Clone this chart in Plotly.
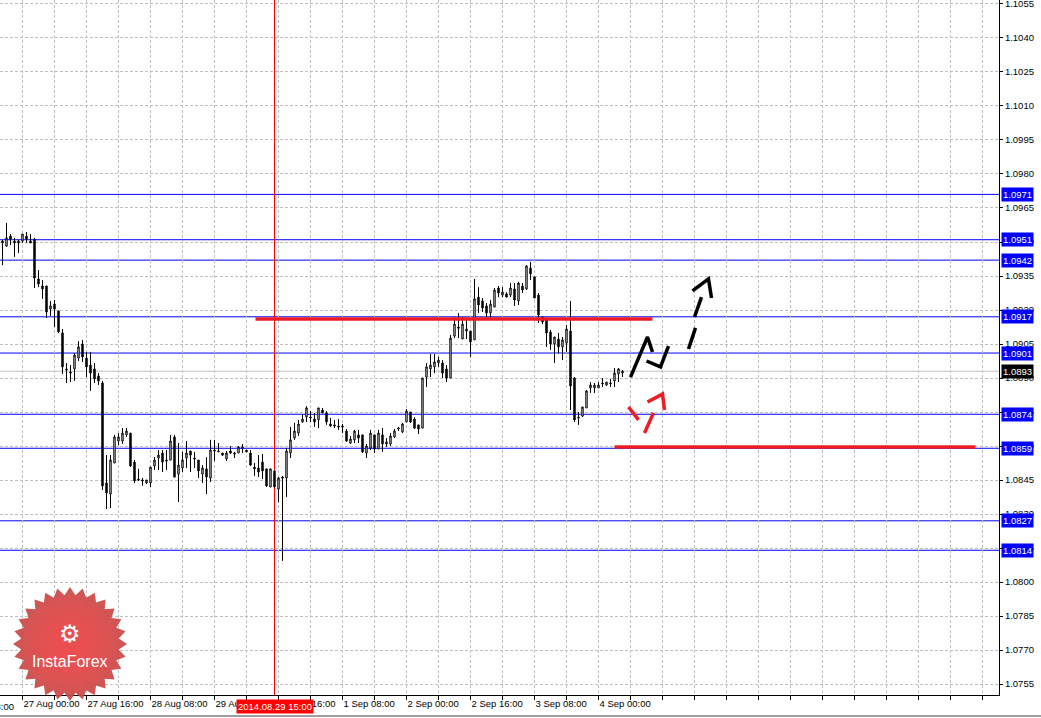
import math
import plotly.graph_objects as go

# ---------------- data (EURUSD-like H1 bars) ----------------
opens = [1.09504, 1.09482, 1.09526, 1.09504, 1.09504, 1.09504, 1.09526, 1.09504, 1.09513, 1.09337,
         1.09306, 1.09306, 1.09204, 1.09226, 1.09196, 1.09099, 1.08940, 1.08926, 1.08940, 1.08988,
         1.09050, 1.08988, 1.08957, 1.08940, 1.08909, 1.08878, 1.08437, 1.08388, 1.08525, 1.08622,
         1.08622, 1.08649, 1.08657, 1.08529, 1.08454, 1.08450, 1.08437, 1.08437, 1.08512, 1.08547,
         1.08569, 1.08538, 1.08538, 1.08640, 1.08476, 1.08503, 1.08547, 1.08578, 1.08547, 1.08538,
         1.08476, 1.08499, 1.08459, 1.08582, 1.08574, 1.08569, 1.08543, 1.08578, 1.08569, 1.08569,
         1.08587, 1.08582, 1.08569, 1.08507, 1.08503, 1.08529, 1.08499, 1.08419, 1.08490, 1.08410,
         1.08463, 1.08459, 1.08569, 1.08635, 1.08657, 1.08706, 1.08728, 1.08728, 1.08719, 1.08715,
         1.08759, 1.08746, 1.08697, 1.08693, 1.08688, 1.08688, 1.08666, 1.08613, 1.08627, 1.08649,
         1.08649, 1.08569, 1.08591, 1.08649, 1.08587, 1.08649, 1.08609, 1.08609, 1.08640, 1.08675,
         1.08662, 1.08706, 1.08750, 1.08719, 1.08693, 1.08679, 1.08904, 1.08940, 1.08949, 1.08966,
         1.08966, 1.08940, 1.08900, 1.09085, 1.09125, 1.09072, 1.09107, 1.09107, 1.09068, 1.09257,
         1.09240, 1.09218, 1.09187, 1.09213, 1.09297, 1.09266, 1.09271, 1.09266, 1.09293, 1.09240,
         1.09306, 1.09293, 1.09385, 1.09346, 1.09266, 1.09169, 1.09165, 1.09103, 1.09050, 1.09072,
         1.09037, 1.09054, 1.09107, 1.08900, 1.08728, 1.08732, 1.08768, 1.08856, 1.08856, 1.08856,
         1.08878, 1.08869, 1.08874, 1.08887, 1.08918, 1.08922]
highs = [1.09509, 1.09584, 1.09535, 1.09518, 1.09509, 1.09535, 1.09544, 1.09535, 1.09518, 1.09376,
         1.09332, 1.09306, 1.09240, 1.09244, 1.09196, 1.09116, 1.08966, 1.08957, 1.09010, 1.09063,
         1.09068, 1.09015, 1.09015, 1.08966, 1.08922, 1.08887, 1.08560, 1.08560, 1.08649, 1.08657,
         1.08679, 1.08679, 1.08657, 1.08538, 1.08499, 1.08459, 1.08450, 1.08507, 1.08551, 1.08582,
         1.08582, 1.08582, 1.08649, 1.08649, 1.08613, 1.08574, 1.08622, 1.08578, 1.08574, 1.08538,
         1.08516, 1.08551, 1.08627, 1.08627, 1.08613, 1.08569, 1.08578, 1.08600, 1.08574, 1.08600,
         1.08609, 1.08582, 1.08582, 1.08525, 1.08560, 1.08565, 1.08499, 1.08499, 1.08490, 1.08463,
         1.08468, 1.08591, 1.08684, 1.08702, 1.08715, 1.08741, 1.08776, 1.08754, 1.08746, 1.08768,
         1.08768, 1.08754, 1.08724, 1.08715, 1.08719, 1.08697, 1.08675, 1.08644, 1.08671, 1.08671,
         1.08649, 1.08609, 1.08671, 1.08649, 1.08671, 1.08679, 1.08635, 1.08657, 1.08675, 1.08684,
         1.08702, 1.08763, 1.08750, 1.08728, 1.08693, 1.08900, 1.08966, 1.09006, 1.09006, 1.08993,
         1.08979, 1.08957, 1.09090, 1.09169, 1.09187, 1.09169, 1.09165, 1.09107, 1.09337, 1.09301,
         1.09253, 1.09231, 1.09244, 1.09297, 1.09306, 1.09301, 1.09279, 1.09319, 1.09319, 1.09324,
         1.09319, 1.09398, 1.09412, 1.09346, 1.09275, 1.09169, 1.09165, 1.09112, 1.09081, 1.09099,
         1.09081, 1.09134, 1.09240, 1.08904, 1.08750, 1.08772, 1.08847, 1.08882, 1.08878, 1.08882,
         1.08900, 1.08882, 1.08896, 1.08944, 1.08944, 1.08935]
lows = [1.09398, 1.09478, 1.09487, 1.09434, 1.09451, 1.09496, 1.09496, 1.09496, 1.09297, 1.09301,
        1.09249, 1.09165, 1.09174, 1.09125, 1.09099, 1.08918, 1.08878, 1.08882, 1.08887, 1.08975,
        1.08971, 1.08904, 1.08843, 1.08878, 1.08869, 1.08406, 1.08322, 1.08326, 1.08525, 1.08604,
        1.08609, 1.08640, 1.08507, 1.08437, 1.08446, 1.08424, 1.08432, 1.08419, 1.08494, 1.08494,
        1.08485, 1.08494, 1.08538, 1.08463, 1.08353, 1.08485, 1.08503, 1.08485, 1.08503, 1.08459,
        1.08437, 1.08388, 1.08441, 1.08534, 1.08574, 1.08556, 1.08534, 1.08565, 1.08547, 1.08569,
        1.08569, 1.08574, 1.08512, 1.08468, 1.08463, 1.08454, 1.08419, 1.08419, 1.08419, 1.08353,
        1.08093, 1.08375, 1.08547, 1.08627, 1.08644, 1.08702, 1.08706, 1.08706, 1.08684, 1.08679,
        1.08746, 1.08693, 1.08684, 1.08679, 1.08671, 1.08657, 1.08618, 1.08609, 1.08613, 1.08613,
        1.08569, 1.08547, 1.08582, 1.08569, 1.08587, 1.08574, 1.08596, 1.08600, 1.08635, 1.08666,
        1.08657, 1.08706, 1.08702, 1.08675, 1.08653, 1.08679, 1.08860, 1.08904, 1.08922, 1.08949,
        1.08900, 1.08882, 1.08900, 1.09076, 1.09076, 1.09072, 1.09072, 1.08993, 1.09068, 1.09187,
        1.09191, 1.09165, 1.09165, 1.09213, 1.09257, 1.09257, 1.09257, 1.09257, 1.09218, 1.09222,
        1.09275, 1.09288, 1.09332, 1.09253, 1.09143, 1.09138, 1.09037, 1.09024, 1.08966, 1.09010,
        1.08979, 1.09015, 1.08759, 1.08706, 1.08693, 1.08728, 1.08768, 1.08834, 1.08834, 1.08856,
        1.08860, 1.08865, 1.08860, 1.08860, 1.08882, 1.08904]
closes = [1.09496, 1.09518, 1.09513, 1.09496, 1.09496, 1.09535, 1.09513, 1.09496, 1.09341, 1.09315,
          1.09293, 1.09191, 1.09218, 1.09204, 1.09103, 1.08949, 1.08936, 1.08922, 1.09001, 1.09037,
          1.08993, 1.08949, 1.08922, 1.08896, 1.08887, 1.08424, 1.08393, 1.08538, 1.08640, 1.08640,
          1.08657, 1.08666, 1.08512, 1.08446, 1.08450, 1.08446, 1.08450, 1.08507, 1.08538, 1.08560,
          1.08529, 1.08534, 1.08622, 1.08463, 1.08516, 1.08538, 1.08569, 1.08560, 1.08543, 1.08490,
          1.08503, 1.08463, 1.08582, 1.08578, 1.08578, 1.08560, 1.08569, 1.08569, 1.08565, 1.08596,
          1.08596, 1.08574, 1.08516, 1.08499, 1.08485, 1.08490, 1.08424, 1.08499, 1.08419, 1.08459,
          1.08459, 1.08578, 1.08627, 1.08666, 1.08697, 1.08719, 1.08768, 1.08724, 1.08706, 1.08768,
          1.08746, 1.08706, 1.08688, 1.08688, 1.08684, 1.08684, 1.08622, 1.08631, 1.08666, 1.08635,
          1.08574, 1.08600, 1.08657, 1.08587, 1.08657, 1.08609, 1.08618, 1.08644, 1.08666, 1.08679,
          1.08697, 1.08754, 1.08706, 1.08679, 1.08675, 1.08900, 1.08949, 1.08957, 1.08971, 1.08979,
          1.08922, 1.08900, 1.09076, 1.09138, 1.09120, 1.09138, 1.09116, 1.09059, 1.09249, 1.09222,
          1.09209, 1.09187, 1.09226, 1.09288, 1.09275, 1.09279, 1.09257, 1.09297, 1.09244, 1.09319,
          1.09288, 1.09394, 1.09359, 1.09253, 1.09178, 1.09147, 1.09099, 1.09050, 1.09081, 1.09037,
          1.09068, 1.09116, 1.08865, 1.08715, 1.08724, 1.08772, 1.08843, 1.08869, 1.08869, 1.08869,
          1.08874, 1.08882, 1.08878, 1.08922, 1.08940, 1.08930]
bar_index = list(range(len(opens)))

time_tick_index = [5, 21, 37, 53, 69, 85, 101, 117, 133, 149]
time_tick_text = ["27 Aug 00:00", "27 Aug 16:00", "28 Aug 08:00", "29 Aug 00:00", "29 Aug 16:00",
                  "1 Sep 08:00", "2 Sep 00:00", "2 Sep 16:00", "3 Sep 08:00", "4 Sep 00:00"]
grid_index = [5, 13, 21, 29, 37, 45, 53, 61, 69, 77, 85, 93, 101, 109, 117, 125, 133, 141, 149,
              157, 165, 173, 181, 189, 197, 205, 213, 221, 229, 237, 245]
offscreen_label = "26 Aug 08:00"

price_tick_text = ["1.0755", "1.0770", "1.0785", "1.0800", "1.0815", "1.0830", "1.0845", "1.0860",
                   "1.0875", "1.0890", "1.0905", "1.0920", "1.0935", "1.0950", "1.0965", "1.0980",
                   "1.0995", "1.1010", "1.1025", "1.1040", "1.1055"]
price_tick_vals = [float(t) for t in price_tick_text]

blue_levels = [1.0971, 1.0951, 1.0942, 1.0917, 1.0901, 1.0874, 1.0859, 1.0827, 1.0814]
current_price = 1.0893
marker_bar = 68
marker_label = "2014.08.29 15:00"

red_zone_start = [63.25, 153.0]
red_zone_end = [162.5, 243.25]
red_zone_price = [1.0916, 1.08596]

black_stroke_x = [[157.0, 161.25, 162.5], [161.0, 164.5, 166.5], [171.5, 173.25], [173.0, 174.75],
                  [172.5, 176.5, 177.25]]
black_stroke_y = [[1.08904, 1.09081, 1.09015], [1.08975, 1.08949, 1.09041], [1.09028, 1.09121],
                  [1.09169, 1.09257], [1.09284, 1.09337, 1.09253]]
red_stroke_x = [[156.5, 159.0], [160.5, 162.75], [161.25, 165.0, 165.5]]
red_stroke_y = [[1.08772, 1.08715], [1.08657, 1.08746], [1.08794, 1.08829, 1.08759]]

# ---------------- geometry ----------------
W, H = 1041, 718
ML, MR, MT, MB = 0, 42, 0, 23
PW, PH = W - ML - MR, H - MT - MB
FONT = "Liberation Sans, Arial, sans-serif"


def px_to_paper(px, py):
    return px / PW, 1 - py / PH


fig = go.Figure()

fig.add_trace(go.Candlestick(
    x=bar_index, open=opens, high=highs, low=lows, close=closes,
    increasing=dict(fillcolor="white", line=dict(color="black", width=1)),
    decreasing=dict(fillcolor="black", line=dict(color="black", width=1)),
    whiskerwidth=0, showlegend=False, hoverinfo="skip",
))

for xs, ys in zip(black_stroke_x, black_stroke_y):
    fig.add_trace(go.Scatter(x=xs, y=ys, mode="lines", line=dict(color="black", width=3.5),
                             showlegend=False, hoverinfo="skip"))
for xs, ys in zip(red_stroke_x, red_stroke_y):
    fig.add_trace(go.Scatter(x=xs, y=ys, mode="lines", line=dict(color="#EE1C25", width=3.5),
                             showlegend=False, hoverinfo="skip"))

shapes = []
shapes.append(dict(type="line", xref="paper", x0=0, x1=1, yref="y", y0=current_price, y1=current_price,
                   line=dict(color="#C0C0C0", width=1), layer="between"))
for lv in blue_levels:
    shapes.append(dict(type="line", xref="paper", x0=0, x1=1, yref="y", y0=lv, y1=lv,
                       line=dict(color="#0000FF", width=1), layer="between"))
shapes.append(dict(type="line", xref="x", x0=marker_bar, x1=marker_bar, yref="paper", y0=0, y1=1,
                   line=dict(color="#FF0000", width=1), layer="between"))
for x0, x1, p in zip(red_zone_start, red_zone_end, red_zone_price):
    shapes.append(dict(type="line", xref="x", x0=x0, x1=x1, yref="y", y0=p, y1=p,
                       line=dict(color="#EE1C25", width=3.5), layer="above"))

# logo starburst
cx, cy, R, r, n = 70, 644, 57, 49, 28
pts = []
for k in range(2 * n):
    a = -math.pi / 2 + k * math.pi / n
    rad = R if k % 2 == 0 else r
    X, Y = px_to_paper(cx + rad * math.cos(a), cy + rad * math.sin(a))
    pts.append(f"{X:.5f},{Y:.5f}")
path = "M " + " L ".join(pts) + " Z"
shapes.append(dict(type="path", xref="paper", yref="paper", path=path, fillcolor="#CC4848",
                   line=dict(width=0), opacity=0.93, layer="above"))
for rr in [48, 42, 36, 30, 24, 18, 12]:
    x0, y0 = px_to_paper(cx - rr, cy - rr)
    x1, y1 = px_to_paper(cx + rr, cy + rr)
    shapes.append(dict(type="circle", xref="paper", yref="paper", x0=x0, x1=x1, y0=y1, y1=y0,
                       fillcolor="rgba(255,80,80,0.13)", line=dict(width=0), layer="above"))

annotations = []
for lv in blue_levels:
    annotations.append(dict(xref="paper", x=1, xshift=2, xanchor="left", yref="y", y=lv, yanchor="middle",
                            text=f"{lv:.4f}", showarrow=False, bgcolor="#0000FF",
                            font=dict(family=FONT, size=9.5, color="white"), borderpad=1))
annotations.append(dict(xref="paper", x=1, xshift=2, xanchor="left", yref="y", y=current_price,
                        yanchor="middle", text=f"{current_price:.4f}", showarrow=False, bgcolor="#000000",
                        font=dict(family=FONT, size=9.5, color="white"), borderpad=1))
lab_y = 1 - 706 / PH
annotations.append(dict(xref="x", x=marker_bar, xanchor="center", yref="paper", y=lab_y, yanchor="middle",
                        text=marker_label, showarrow=False, bgcolor="#FF0000",
                        font=dict(family=FONT, size=9.5, color="white"), borderpad=1))
annotations.append(dict(xref="paper", x=-44 / PW, xanchor="left", yref="paper", y=lab_y, yanchor="middle",
                        text=offscreen_label, showarrow=False,
                        font=dict(family=FONT, size=9.5, color="black")))
gx, gy = px_to_paper(70, 634)
annotations.append(dict(xref="paper", x=gx, xanchor="center", yref="paper", y=gy, yanchor="middle",
                        text="⚙", showarrow=False,
                        font=dict(family="DejaVu Sans", size=24, color="white")))
tx, ty = px_to_paper(70, 661)
annotations.append(dict(xref="paper", x=tx, xanchor="center", yref="paper", y=ty, yanchor="middle",
                        text="InstaForex", showarrow=False,
                        font=dict(family=FONT, size=16, color="white")))

fx0, fy = px_to_paper(0, 716)
fx1, _ = px_to_paper(W, 716)
shapes.append(dict(type="line", xref="paper", yref="paper", x0=fx0, x1=fx1, y0=fy, y1=fy,
                   line=dict(color="#404040", width=1), layer="above"))

tick_text = [time_tick_text[time_tick_index.index(g)] if g in time_tick_index else "" for g in grid_index]

fig.update_layout(
    width=W, height=H,
    margin=dict(l=ML, r=MR, t=MT, b=MB, pad=0, autoexpand=False),
    paper_bgcolor="white", plot_bgcolor="white",
    showlegend=False,
    shapes=shapes, annotations=annotations,
    boxgap=0.5,
    font=dict(family=FONT, size=9.5, color="black"),
    xaxis=dict(range=[-0.625, 249.125], tickmode="array", tickvals=grid_index, ticktext=tick_text,
               ticklabelposition="outside right", tickangle=0, automargin=False,
               ticks="outside", ticklen=4, tickcolor="black",
               showgrid=True, gridcolor="#C0C0C0", griddash="3px,2px", gridwidth=1,
               showline=True, linecolor="black", linewidth=1, zeroline=False,
               rangeslider=dict(visible=False), tickfont=dict(family=FONT, size=9.5, color="black"),
               fixedrange=True),
    yaxis=dict(side="right", range=[1.075015, 1.105676], tickmode="array", tickvals=price_tick_vals,
               ticktext=price_tick_text, ticks="outside", ticklen=3, tickcolor="black", automargin=False,
               ticklabeloverflow="allow",
               showgrid=True, gridcolor="#C0C0C0", griddash="3px,2px", gridwidth=1,
               showline=True, linecolor="black", linewidth=1, zeroline=False,
               tickfont=dict(family=FONT, size=9.5, color="black"), fixedrange=True),
)

fig.write_html("out.html", config={"displayModeBar": False},
               post_script="document.body.style.margin='0px';document.body.style.overflow='hidden';")
